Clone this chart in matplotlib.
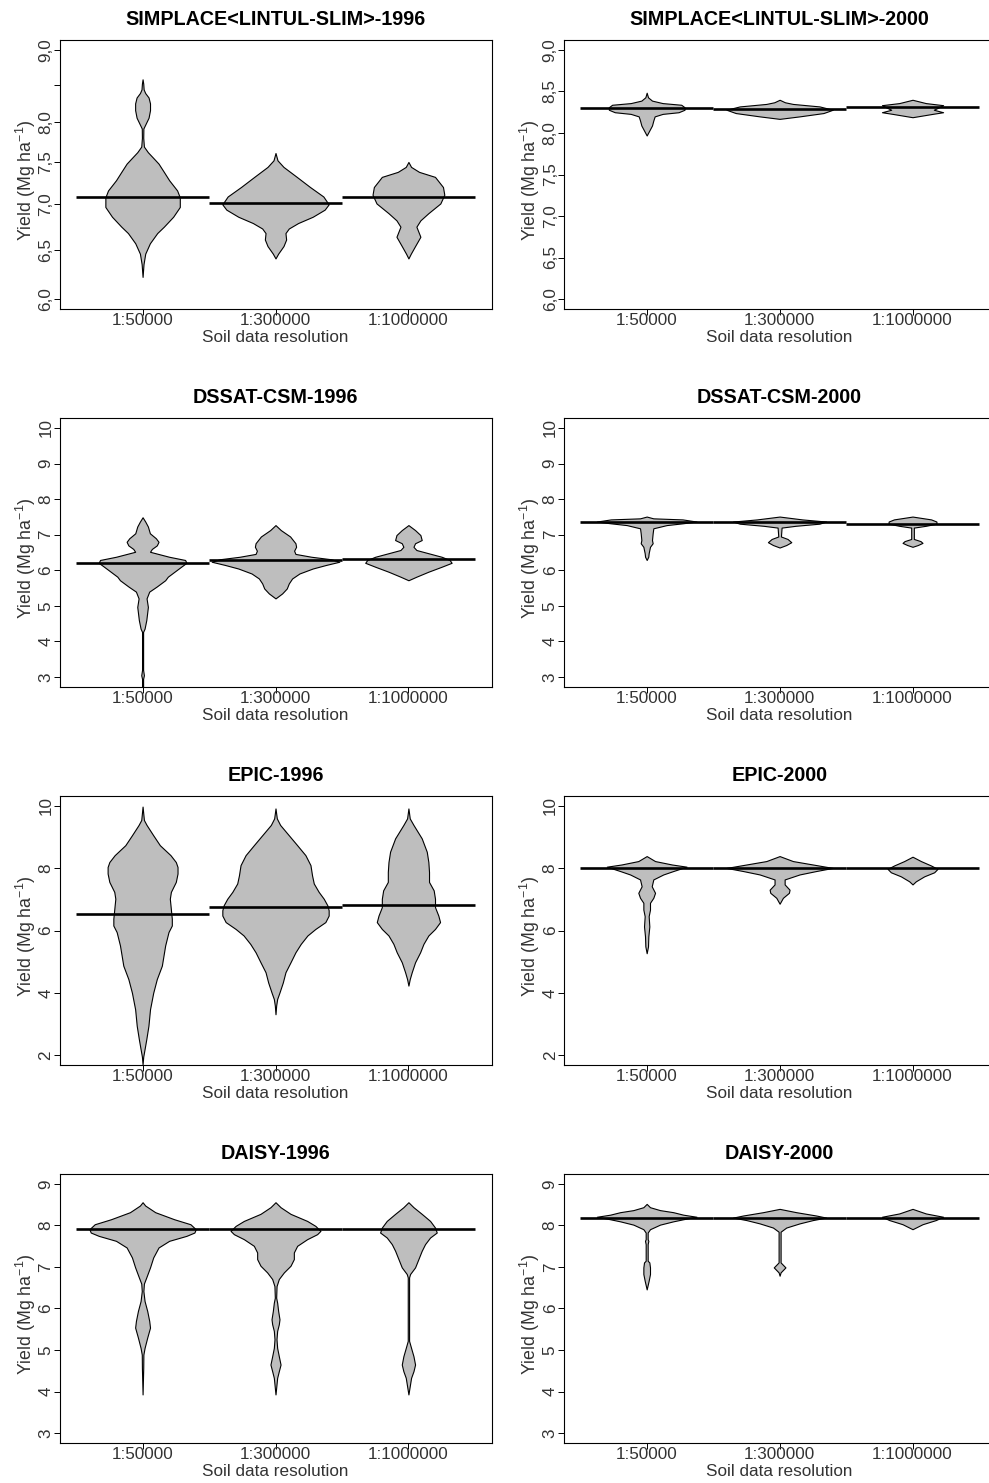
import numpy as np
import matplotlib
matplotlib.use("Agg")
import matplotlib.pyplot as plt
from matplotlib.ticker import NullLocator

plt.rcParams['font.family'] = ['Liberation Sans', 'DejaVu Sans']
plt.rcParams['mathtext.default'] = 'regular'

# soil map resolutions (x categories)
resolutions = ['1:50000', '1:300000', '1:1000000']

# each bean: list of (yield, half width of the bean in x units)
# ---- SIMPLACE<LINTUL-SLIM> 1996 (log y axis) ----
simplace_1996 = [
    [(8.58, 0), (8.52, 0.005), (8.44, 0.008), (8.39, 0.02), (8.33, 0.045), (8.25, 0.056), (8.16, 0.056),
     (8.06, 0.045), (7.97, 0.02), (7.92, 0.006), (7.80, 0.005), (7.69, 0.01), (7.62, 0.04), (7.55, 0.08),
     (7.48, 0.12), (7.38, 0.16), (7.28, 0.2), (7.16, 0.26), (7.08, 0.28), (6.97, 0.28), (6.86, 0.23),
     (6.75, 0.16), (6.68, 0.11), (6.57, 0.055), (6.46, 0.02), (6.35, 0.007), (6.22, 0)],
    [(7.61, 0), (7.52, 0.015), (7.44, 0.06), (7.32, 0.16), (7.20, 0.26), (7.09, 0.36), (7.00, 0.40),
     (6.94, 0.37), (6.86, 0.28), (6.79, 0.17), (6.73, 0.10), (6.68, 0.075), (6.61, 0.08), (6.54, 0.06),
     (6.46, 0.02), (6.41, 0)],
    [(7.50, 0), (7.44, 0.02), (7.38, 0.08), (7.32, 0.2), (7.20, 0.26), (7.11, 0.27), (7.01, 0.24),
     (6.90, 0.15), (6.82, 0.09), (6.75, 0.06), (6.64, 0.09), (6.54, 0.05), (6.46, 0.018), (6.41, 0)],
]
simplace_1996_mean = [7.08, 7.02, 7.08]

# ---- SIMPLACE<LINTUL-SLIM> 2000 ----
simplace_2000 = [
    [(8.485, 0), (8.43, 0.01), (8.39, 0.04), (8.36, 0.12), (8.34, 0.26), (8.31, 0.285), (8.28, 0.285),
     (8.25, 0.24), (8.23, 0.12), (8.20, 0.06), (8.15, 0.05), (8.09, 0.04), (8.03, 0.02), (7.97, 0)],
    [(8.40, 0), (8.37, 0.04), (8.35, 0.10), (8.32, 0.30), (8.28, 0.40), (8.24, 0.33), (8.20, 0.15), (8.17, 0)],
    [(8.40, 0), (8.36, 0.10), (8.335, 0.23), (8.31, 0.20), (8.28, 0.16), (8.25, 0.23), (8.23, 0.15), (8.19, 0)],
]
simplace_2000_mean = [8.295, 8.29, 8.31]

# ---- DSSAT-CSM 1996 ----
dssat_1996 = [
    [(7.49, 0), (7.37, 0.02), (7.23, 0.04), (7.04, 0.055), (6.90, 0.1), (6.80, 0.12), (6.70, 0.107),
     (6.60, 0.07), (6.52, 0.056), (6.38, 0.2), (6.29, 0.32), (6.21, 0.33), (6.10, 0.29), (5.96, 0.24),
     (5.82, 0.19), (5.72, 0.17), (5.54, 0.105), (5.40, 0.05), (5.21, 0.03), (4.97, 0.04), (4.60, 0.028),
     (4.36, 0.015), (4.27, 0.004), (3.20, 0.004), (3.05, 0.01), (2.95, 0.004), (2.60, 0.004)],
    [(7.27, 0), (7.13, 0.04), (6.95, 0.11), (6.76, 0.15), (6.66, 0.155), (6.55, 0.14), (6.46, 0.15),
     (6.38, 0.27), (6.31, 0.42), (6.24, 0.48), (6.15, 0.38), (6.05, 0.28), (5.91, 0.18), (5.77, 0.125),
     (5.63, 0.10), (5.49, 0.085), (5.35, 0.05), (5.21, 0)],
    [(7.27, 0), (7.13, 0.05), (6.99, 0.09), (6.85, 0.10), (6.76, 0.05), (6.66, 0.038), (6.57, 0.06),
     (6.48, 0.15), (6.38, 0.25), (6.29, 0.31), (6.21, 0.325), (6.10, 0.25), (5.96, 0.15), (5.82, 0.06),
     (5.72, 0)],
]
dssat_1996_mean = [6.21, 6.29, 6.32]

# ---- DSSAT-CSM 2000 ----
dssat_2000 = [
    [(7.51, 0), (7.46, 0.05), (7.43, 0.27), (7.37, 0.375), (7.32, 0.27), (7.27, 0.15), (7.18, 0.05),
     (7.04, 0.045), (6.85, 0.04), (6.76, 0.045), (6.66, 0.025), (6.48, 0.015), (6.38, 0.012), (6.29, 0)],
    [(7.51, 0), (7.43, 0.17), (7.37, 0.35), (7.31, 0.30), (7.25, 0.12), (7.20, 0.015), (6.95, 0.01),
     (6.88, 0.06), (6.79, 0.088), (6.71, 0.05), (6.64, 0)],
    [(7.51, 0), (7.43, 0.14), (7.37, 0.18), (7.31, 0.18), (7.25, 0.1), (7.20, 0.01), (6.88, 0.01),
     (6.82, 0.06), (6.77, 0.075), (6.71, 0.04), (6.66, 0)],
]
dssat_2000_mean = [7.35, 7.35, 7.31]

# ---- EPIC 1996 ----
epic_1996 = [
    [(9.98, 0), (9.55, 0.01), (9.39, 0.03), (9.06, 0.08), (8.74, 0.13), (8.42, 0.21), (8.20, 0.25),
     (8.04, 0.263), (7.83, 0.263), (7.56, 0.25), (7.24, 0.213), (7.02, 0.205), (6.81, 0.21), (6.59, 0.215),
     (6.38, 0.22), (6.16, 0.22), (5.95, 0.195), (5.52, 0.17), (4.87, 0.145), (4.44, 0.107), (4.00, 0.08),
     (3.47, 0.056), (2.94, 0.044), (2.51, 0.028), (2.19, 0.015), (1.95, 0.005), (1.70, 0)],
    [(9.92, 0), (9.60, 0.01), (9.39, 0.035), (9.06, 0.1), (8.74, 0.163), (8.42, 0.225), (8.10, 0.263),
     (7.77, 0.275), (7.51, 0.288), (7.24, 0.325), (7.02, 0.363), (6.81, 0.39), (6.65, 0.4), (6.48, 0.4),
     (6.27, 0.375), (6.05, 0.3), (5.84, 0.24), (5.57, 0.19), (5.30, 0.15), (4.98, 0.113), (4.66, 0.075),
     (4.33, 0.055), (4.01, 0.03), (3.80, 0.0125), (3.59, 0.005), (3.31, 0)],
    [(9.92, 0), (9.60, 0.01), (9.39, 0.038), (8.96, 0.1), (8.53, 0.138), (8.20, 0.15), (7.88, 0.155),
     (7.56, 0.155), (7.29, 0.19), (7.02, 0.2), (6.75, 0.2), (6.48, 0.225), (6.27, 0.238), (6.05, 0.2),
     (5.84, 0.15), (5.57, 0.113), (5.30, 0.088), (4.98, 0.05), (4.66, 0.025), (4.44, 0.01), (4.23, 0)],
]
epic_1996_mean = [6.54, 6.75, 6.81]

# ---- EPIC 2000 ----
epic_2000 = [
    [(8.39, 0), (8.23, 0.063), (8.12, 0.19), (8.05, 0.3), (7.98, 0.25), (7.91, 0.2), (7.80, 0.125),
     (7.64, 0.05), (7.42, 0.038), (7.21, 0.063), (7.05, 0.05), (6.89, 0.025), (6.67, 0.025), (6.46, 0.015),
     (6.13, 0.02), (5.81, 0.0125), (5.49, 0.01), (5.27, 0)],
    [(8.39, 0), (8.23, 0.1), (8.12, 0.25), (8.01, 0.4), (7.91, 0.275), (7.80, 0.15), (7.64, 0.038),
     (7.48, 0.038), (7.31, 0.075), (7.21, 0.07), (7.05, 0.025), (6.86, 0)],
    [(8.37, 0), (8.23, 0.063), (8.09, 0.138), (7.98, 0.188), (7.87, 0.163), (7.74, 0.088), (7.58, 0.025),
     (7.48, 0)],
]
epic_2000_mean = [8.00, 8.02, 8.00]

# ---- DAISY 1996 ----
daisy_1996 = [
    [(8.56, 0), (8.48, 0.02), (8.32, 0.095), (8.15, 0.238), (8.03, 0.36), (7.91, 0.4), (7.83, 0.39),
     (7.75, 0.33), (7.63, 0.2), (7.47, 0.12), (7.23, 0.08), (6.99, 0.056), (6.75, 0.028), (6.60, 0.01),
     (6.42, 0.006), (6.18, 0.015), (5.94, 0.035), (5.70, 0.05), (5.54, 0.056), (5.30, 0.035), (5.05, 0.015),
     (4.89, 0.006), (4.57, 0.005), (3.93, 0)],
    [(8.56, 0), (8.44, 0.038), (8.28, 0.113), (8.11, 0.238), (7.99, 0.3), (7.87, 0.338), (7.79, 0.313),
     (7.67, 0.238), (7.51, 0.163), (7.35, 0.138), (7.19, 0.138), (7.03, 0.113), (6.87, 0.063), (6.71, 0.025),
     (6.54, 0.008), (6.26, 0.005), (6.14, 0.0125), (5.94, 0.02), (5.74, 0.03), (5.62, 0.025), (5.46, 0.0125),
     (5.26, 0.0075), (5.05, 0.0125), (4.85, 0.025), (4.65, 0.038), (4.49, 0.025), (4.33, 0.0125), (3.93, 0)],
    [(8.56, 0), (8.44, 0.038), (8.28, 0.1), (8.11, 0.163), (7.95, 0.2), (7.83, 0.213), (7.71, 0.163),
     (7.55, 0.125), (7.39, 0.1), (7.19, 0.075), (6.99, 0.05), (6.83, 0.0125), (6.75, 0.005), (5.22, 0.005),
     (5.05, 0.02), (4.85, 0.038), (4.65, 0.05), (4.49, 0.038), (4.33, 0.02), (3.93, 0)],
]
daisy_1996_mean = [7.91, 7.91, 7.91]

# ---- DAISY 2000 ----
daisy_2000 = [
    [(8.52, 0), (8.44, 0.025), (8.37, 0.1), (8.32, 0.2), (8.26, 0.275), (8.21, 0.375), (8.15, 0.275),
     (8.10, 0.2), (8.02, 0.1), (7.91, 0.025), (7.83, 0.0075), (7.67, 0.0075), (7.63, 0.0125), (7.55, 0.0075),
     (7.15, 0.0075), (7.11, 0.02), (6.99, 0.025), (6.83, 0.025), (6.67, 0.015), (6.46, 0)],
    [(8.40, 0), (8.32, 0.125), (8.24, 0.275), (8.19, 0.35), (8.13, 0.25), (8.05, 0.15), (7.95, 0.05),
     (7.85, 0.0075), (7.11, 0.0075), (6.99, 0.044), (6.87, 0.0075), (6.79, 0)],
    [(8.40, 0), (8.29, 0.1), (8.21, 0.23), (8.13, 0.175), (8.03, 0.075), (7.91, 0)],
]
daisy_2000_mean = [8.19, 8.19, 8.19]

# y ticks per panel
ticks_simplace = [6.0, 6.5, 7.0, 7.5, 8.0, 8.5, 9.0]
ticks_dssat = [3, 4, 5, 6, 7, 8, 9, 10]
ticks_epic = [2, 4, 6, 8, 10]
ticks_daisy = [3, 4, 5, 6, 7, 8, 9]

W, H = 989, 1483
fig = plt.figure(figsize=(W / 100, H / 100), dpi=100)

col_left = [59.5, 563.6]
row_top = [40, 418, 796, 1174]
aw, ah = 432, 269

txt_col = '#333333'


def draw_panel(row, col, title, beans, means, ticks, comma=False, log=False, hide=()):
    ax = fig.add_axes([col_left[col] / W, 1 - (row_top[row] + ah) / H, aw / W, ah / H])
    for i, bean in enumerate(beans):
        c = i + 1
        ys = np.array([p[0] for p in bean])
        ws = np.array([p[1] for p in bean])
        ax.fill_betweenx(ys, c - ws, c + ws, facecolor='#BEBEBE', edgecolor='black',
                         linewidth=0.8, zorder=2)
    for i, m in enumerate(means):
        c = i + 1
        ax.plot([c - 0.5, c + 0.5], [m, m], color='black', lw=1.9,
                solid_capstyle='butt', zorder=3)
    lo, hi = ticks[0], ticks[-1]
    if log:
        ax.set_yscale('log')
        r = np.log(hi) - np.log(lo)
        ax.set_ylim(np.exp(np.log(lo) - 0.04 * r), np.exp(np.log(hi) + 0.04 * r))
        ax.yaxis.set_minor_locator(NullLocator())
    else:
        r = hi - lo
        ax.set_ylim(lo - 0.04 * r, hi + 0.04 * r)
    ax.set_xlim(0.375, 3.625)
    ax.set_yticks(ticks)
    if comma:
        labels = [('%.1f' % t).replace('.', ',') for t in ticks]
    else:
        labels = ['%d' % t for t in ticks]
    labels = ['' if t in hide else l for t, l in zip(ticks, labels)]
    ax.set_yticklabels(labels, rotation=90, va='center')
    ax.set_xticks([1, 2, 3])
    ax.set_xticklabels(resolutions)
    ax.tick_params(axis='x', length=4.3, width=0.7, pad=-1.6, labelsize=12.3, labelcolor=txt_col)
    ax.tick_params(axis='y', length=4.0, width=0.7, pad=0.3, labelsize=12.3, labelcolor=txt_col)
    for s in ax.spines.values():
        s.set_linewidth(0.8)
    ax.set_title(title, fontsize=14.2, fontweight='bold', pad=10.8)
    ax.set_xlabel('Soil data resolution', fontsize=12.3, color=txt_col, va='top')
    ax.xaxis.set_label_coords(0.5, -0.078)
    ax.set_ylabel('Yield (Mg ha$^{-1}$)', fontsize=12.8, color=txt_col)
    ax.yaxis.set_label_coords(-0.05, 0.48)
    return ax


draw_panel(0, 0, 'SIMPLACE<LINTUL-SLIM>-1996', simplace_1996, simplace_1996_mean,
           ticks_simplace, comma=True, log=True, hide=(8.5,))
draw_panel(0, 1, 'SIMPLACE<LINTUL-SLIM>-2000', simplace_2000, simplace_2000_mean,
           ticks_simplace, comma=True)
draw_panel(1, 0, 'DSSAT-CSM-1996', dssat_1996, dssat_1996_mean, ticks_dssat)
draw_panel(1, 1, 'DSSAT-CSM-2000', dssat_2000, dssat_2000_mean, ticks_dssat)
draw_panel(2, 0, 'EPIC-1996', epic_1996, epic_1996_mean, ticks_epic)
draw_panel(2, 1, 'EPIC-2000', epic_2000, epic_2000_mean, ticks_epic)
draw_panel(3, 0, 'DAISY-1996', daisy_1996, daisy_1996_mean, ticks_daisy)
draw_panel(3, 1, 'DAISY-2000', daisy_2000, daisy_2000_mean, ticks_daisy)

fig.savefig('out.png', dpi=100)
